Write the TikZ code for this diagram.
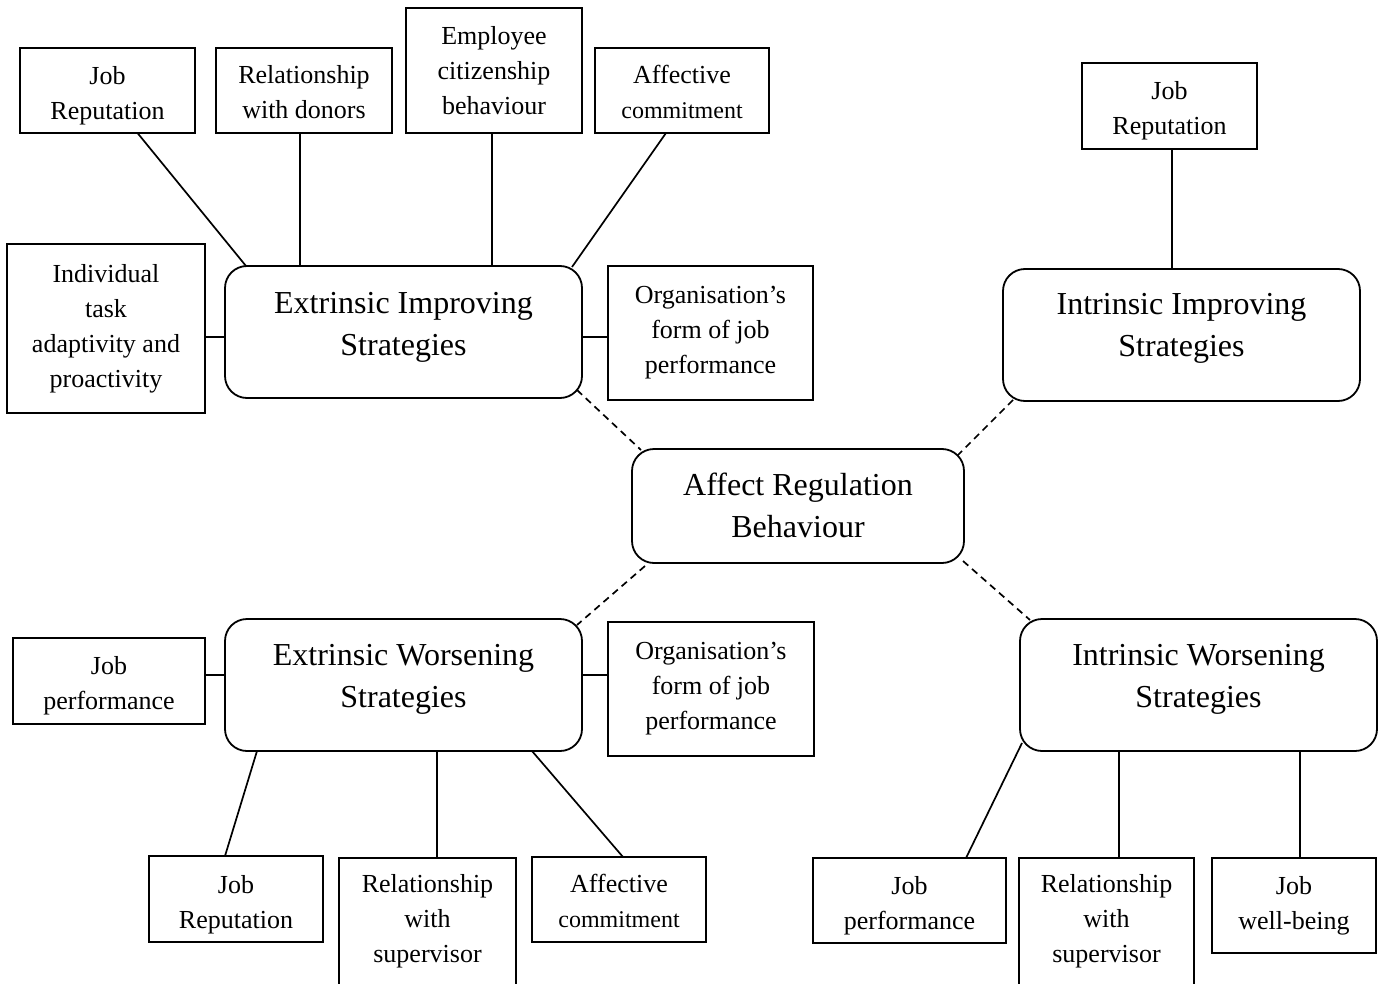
\documentclass[tikz,border=0pt]{standalone}
\usepackage{fontspec}
\setmainfont{Liberation Serif}
\usetikzlibrary{calc}
% invisible strut that pushes the first line of a box label downwards
\newcommand\txtlift[1]{\rule{0pt}{#1}}
\begin{document}
\begin{tikzpicture}[x=1pt,y=-1pt,
  every node/.style={inner sep=0pt, outer sep=0pt},
  sbox/.style={draw, line width=1.8pt, rectangle, align=center, font=\fontsize{26}{35}\selectfont},
  rbox/.style={draw, line width=1.8pt, rectangle, rounded corners=22pt, minimum width=357pt, minimum height=132pt},
  bigtxt/.style={align=center, font=\fontsize{32}{42}\selectfont},
  smalltxt/.style={align=center, font=\fontsize{26}{35}\selectfont},
  link/.style={line width=1.7pt},
  dlink/.style={line width=1.7pt, dash pattern=on 7pt off 5pt},
]
\fill[white] (0,0) rectangle (1380,984);
\useasboundingbox (0,0) rectangle (1380,984);

% central node
\node[rbox, minimum width=332pt, minimum height=114pt] (arb) at (798,506) {};
\node[bigtxt] (arbt) at (798,505) {Affect Regulation\\Behaviour};

% extrinsic improving branch
\node[rbox] (eis) at (403.5,332) {};
\node[bigtxt] (eist) at (403.5,327) {Extrinsic Improving\\Strategies};
\node[sbox, minimum width=175pt, minimum height=85pt] (jr1) at (107.5,90.5) {\txtlift{28pt}Job\\Reputation};
\node[sbox, minimum width=176pt, minimum height=85pt] (rd) at (304,90.5) {\txtlift{22pt}Relationship\\with donors};
\node[sbox, minimum width=176pt, minimum height=125pt] (ecb) at (494,70.5) {Employee\\citizenship\\behaviour};
\node[sbox, minimum width=174pt, minimum height=85pt] (ac1) at (682,90.5) {\txtlift{22pt}Affective\\\fontsize{24}{35}\selectfont commitment};
\node[sbox, minimum width=198pt, minimum height=169pt] (ind) at (106,328.5) {Individual\\task\\adaptivity and\\proactivity};
\node[sbox, minimum width=205pt, minimum height=134pt] (org1) at (710.5,333) {Organisation’s\\form of job\\performance};

% intrinsic improving branch
\node[rbox] (iis) at (1181.5,335) {};
\node[bigtxt] (iist) at (1181.5,328) {Intrinsic Improving\\Strategies};
\node[sbox, minimum width=175pt, minimum height=86pt] (jr2) at (1169.5,106) {\txtlift{28pt}Job\\Reputation};

% extrinsic worsening branch
\node[rbox] (ews) at (403.5,685) {};
\node[bigtxt] (ewst) at (403.5,679) {Extrinsic Worsening\\Strategies};
\node[sbox, minimum width=192pt, minimum height=86pt] (jp1) at (109,681) {\txtlift{28pt}Job\\performance};
\node[sbox, minimum width=206pt, minimum height=134pt] (org2) at (711,689) {Organisation’s\\form of job\\performance};
\node[sbox, minimum width=174pt, minimum height=86pt] (jr3) at (236,899) {\txtlift{29pt}Job\\Reputation};
\node[sbox, minimum width=177pt, minimum height=142pt] (rs1) at (427.5,929) {};
\node[smalltxt] (rs1t) at (427.5,921) {Relationship\\with\\supervisor};
\node[sbox, minimum width=174pt, minimum height=85pt] (ac2) at (619,899.5) {\txtlift{22pt}Affective\\\fontsize{24}{35}\selectfont commitment};

% intrinsic worsening branch
\node[rbox] (iws) at (1198.5,685) {};
\node[bigtxt] (iwst) at (1198.5,679) {Intrinsic Worsening\\Strategies};
\node[sbox, minimum width=193pt, minimum height=85pt] (jp2) at (909.5,900.5) {\txtlift{28pt}Job\\performance};
\node[sbox, minimum width=175pt, minimum height=142pt] (rs2) at (1106.5,929) {};
\node[smalltxt] (rs2t) at (1106.5,921) {Relationship\\with\\supervisor};
\node[sbox, minimum width=164pt, minimum height=95pt] (jwb) at (1294,905.5) {Job\\well-being};

% solid connectors: extrinsic improving
\draw[link] ($(jr1.south)+(30,0)$) -- ($(eis.north west)+(21,0)$);
\coordinate (k2) at ($(rd.south)+(-4,0)$);
\draw[link] (k2) -- (k2 |- eis.north);
\coordinate (k3) at ($(ecb.south)+(-2,0)$);
\draw[link] (k3) -- (k3 |- eis.north);
\draw[link] ($(ac1.south)+(-16,0)$) -- ($(eis.north east)+(-10,1)$);
\coordinate (k5) at ($(ind.east)+(0,8.5)$);
\draw[link] (k5) -- (k5 -| eis.west);
\coordinate (k6) at ($(org1.west)+(0,4)$);
\draw[link] (k6) -- (k6 -| eis.east);

% intrinsic improving
\coordinate (k7) at ($(jr2.south)+(2.5,0)$);
\draw[link] (k7) -- (k7 |- iis.north);

% extrinsic worsening
\coordinate (k8) at ($(jp1.east)+(0,-6)$);
\draw[link] (k8) -- (k8 -| ews.west);
\coordinate (k9) at ($(org2.west)+(0,-14)$);
\draw[link] (k9) -- (k9 -| ews.east);
\draw[link] ($(ews.south west)+(32,0)$) -- ($(jr3.north)+(-11,0)$);
\coordinate (k11) at ($(rs1.north)+(9.5,0)$);
\draw[link] (k11) -- (k11 |- ews.south);
\draw[link] ($(ews.south east)+(-50,0)$) -- ($(ac2.north)+(4,0)$);

% intrinsic worsening
\draw[link] ($(iws.south west)+(2,-8)$) -- ($(jp2.north)+(56.5,0)$);
\coordinate (k14) at ($(rs2.north)+(12.5,0)$);
\draw[link] (k14) -- (k14 |- iws.south);
\coordinate (k15) at ($(jwb.north)+(6,0)$);
\draw[link] (k15) -- (k15 |- iws.south);

% dashed links to the central node
\draw[dlink] ($(eis.south east)+(-5,-8)$) -- ($(arb.north west)+(9,1)$);
\draw[dlink] ($(iis.south west)+(10,-1)$) -- ($(arb.north east)+(-6,6)$);
\draw[dlink] ($(arb.south west)+(13,3)$) -- ($(ews.north east)+(-5,6)$);
\draw[dlink] ($(arb.south east)+(-1,-2)$) -- ($(iws.north west)+(10,1)$);
\end{tikzpicture}
\end{document}
